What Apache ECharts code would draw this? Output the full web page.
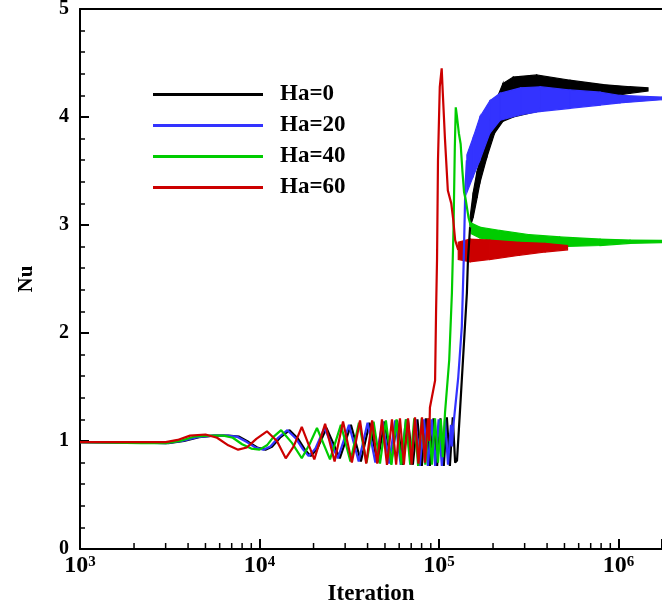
<!DOCTYPE html>
<html><head><meta charset="utf-8">
<script src="https://cdn.jsdelivr.net/npm/echarts@6/dist/echarts.min.js"></script>
<style>html,body{margin:0;padding:0;background:#fff}#c{width:662px;height:605px}</style>
</head><body><div id="c"></div>
<script>
// ---------- data ----------
const seriesNames = ['Ha=0', 'Ha=20', 'Ha=40', 'Ha=60'];
const seriesColors = ['#000000', '#3333ff', '#00cc00', '#cc0000'];

// main traces [iteration, Nu]
const ha0Line = [[1000,0.99],[2300,0.985],[3100,0.98],[3800,1.0],[4600,1.035],[5600,1.05],[6700,1.05],[7700,1.04],[8700,0.99],[9700,0.94],[10800,0.92],[11800,0.95],[13000,1.03],[14700,1.1],[16400,1.02],[17900,0.92],[19300,0.86],[21000,0.93],[23600,1.12],[28000,0.84],[32300,1.15],[36700,0.81],[41000,1.17],[45400,0.8],[49700,1.18],[54100,0.79],[58400,1.19],[62800,0.78],[67100,1.2],[71500,0.78],[75800,1.2],[80200,0.77],[84500,1.21],[88900,0.77],[93200,1.21],[97600,0.77],[101900,1.21],[106300,0.77],[110600,1.22],[115000,0.77],[119300,1.22],[123000,0.8],[126000,0.82],[131000,1.29],[136000,1.75],[143000,2.37],[145000,2.68],[149000,2.98]];
const ha20Line = [[1000,0.99],[2200,0.985],[3000,0.98],[3700,1.0],[4500,1.035],[5500,1.05],[6500,1.05],[7500,1.04],[8500,0.99],[9500,0.94],[10500,0.92],[11500,0.95],[12700,1.03],[14300,1.1],[16000,1.02],[17500,0.92],[18800,0.86],[20500,0.93],[23000,1.12],[27300,0.84],[31500,1.15],[35700,0.81],[40000,1.17],[44200,0.8],[48500,1.18],[52700,0.79],[57000,1.19],[61200,0.78],[65500,1.2],[69700,0.78],[74000,1.2],[78200,0.77],[82500,1.2],[86700,0.77],[91000,1.2],[95200,0.77],[99500,1.2],[103700,0.77],[108000,1.2],[112200,0.78],[116500,1.15],[118000,0.95],[120000,1.13],[128000,1.59],[134000,2.06],[137000,2.61],[140000,3.3],[143000,3.6]];
const ha40Line = [[1000,0.99],[2200,0.98],[3000,0.98],[3600,1.0],[4300,1.04],[5200,1.05],[6300,1.05],[7100,1.03],[8000,0.97],[9000,0.93],[10000,0.92],[11000,0.96],[12000,1.04],[13200,1.1],[15200,0.98],[17200,0.84],[19000,0.97],[20900,1.12],[24700,0.83],[28400,1.15],[32100,0.81],[35800,1.17],[39500,0.8],[43200,1.18],[46900,0.79],[50600,1.19],[54300,0.78],[58000,1.2],[61700,0.78],[65400,1.2],[69100,0.78],[72800,1.21],[76500,0.77],[80200,1.21],[83900,0.78],[87600,1.21],[91300,0.78],[95000,1.21],[98700,0.8],[102400,1.2],[105000,0.85],[108000,1.26],[114000,1.75],[118000,2.37],[120500,2.98],[122500,3.72],[124000,4.09],[126000,4.0],[129000,3.85],[132000,3.75],[135000,3.5],[138000,3.3],[141000,3.23],[146000,3.07],[151000,2.98]];
const ha60Line = [[1000,0.99],[2000,0.99],[3000,0.99],[3500,1.01],[4100,1.05],[5000,1.06],[5800,1.03],[6700,0.96],[7600,0.92],[8500,0.94],[9600,1.02],[11000,1.09],[12500,1.0],[14000,0.84],[15500,0.95],[17200,1.13],[20200,0.83],[23200,1.16],[26200,0.81],[29200,1.18],[32700,0.8],[36300,1.19],[39300,0.79],[42400,1.19],[45300,0.79],[48100,1.2],[51300,0.78],[54700,1.2],[57700,0.78],[60600,1.21],[63700,0.78],[67200,1.21],[70300,0.78],[73500,1.22],[76800,0.79],[80400,1.22],[83500,0.8],[86800,1.21],[88200,1.0],[89000,1.31],[95100,1.56],[96300,2.2],[97500,2.68],[98700,3.6],[101000,4.28],[103500,4.45],[105000,4.22],[108000,3.79],[112000,3.32],[117000,3.2],[120000,3.05],[123000,2.86],[128000,2.77]];

// dense-oscillation envelopes (lower / upper Nu) after the jump
const ha0BandX  = [149000,155000,163000,169000,185000,204000,227000,259000,350000,537000,820000,1160000,1460000];
const ha0BandLo = [2.98,3.07,3.25,3.39,3.63,3.85,3.96,4.0,4.05,4.1,4.18,4.22,4.24];
const ha0BandHi = [3.07,3.3,3.5,3.6,3.9,4.12,4.31,4.37,4.39,4.34,4.3,4.28,4.27];
const ha20BandX  = [143000,155000,169000,192000,219000,285000,366000,537000,790000,1020000,1750000,2800000];
const ha20BandLo = [3.3,3.45,3.6,3.85,3.97,4.02,4.05,4.08,4.11,4.13,4.16,4.17];
const ha20BandHi = [3.65,3.81,4.0,4.15,4.22,4.27,4.28,4.25,4.23,4.2,4.185,4.185];
const ha40BandX  = [151000,169000,219000,320000,470000,790000,1160000,2200000,3200000];
const ha40BandLo = [2.92,2.88,2.84,2.81,2.8,2.81,2.83,2.84,2.845];
const ha40BandHi = [3.02,2.98,2.95,2.91,2.89,2.87,2.86,2.855,2.855];
const ha60BandX  = [128000,149000,192000,280000,390000,520000];
const ha60BandLo = [2.68,2.66,2.68,2.72,2.75,2.77];
const ha60BandHi = [2.84,2.87,2.86,2.84,2.83,2.81];

const xMinorTicks = [2000,3000,4000,5000,6000,7000,8000,9000,20000,30000,40000,50000,60000,70000,80000,90000,200000,300000,400000,500000,600000,700000,800000,900000];
const xMin = 1000, xMax = 1747000;
const yMin = 0, yMax = 5, yStep = 1;
const xTitle = 'Iteration', yTitle = 'Nu';

// ---------- chart ----------
const FONT = '"Liberation Serif","Times New Roman",serif';
const lines = [ha0Line, ha20Line, ha40Line, ha60Line];
const bands = [[ha0BandX,ha0BandLo,ha0BandHi],[ha20BandX,ha20BandLo,ha20BandHi],[ha40BandX,ha40BandLo,ha40BandHi],[ha60BandX,ha60BandLo,ha60BandHi]];

const series = [];
for (let i = 0; i < 4; i++) {
  const c = seriesColors[i];
  series.push({
    name: seriesNames[i], type: 'line', data: lines[i], showSymbol: false, animation: false,
    lineStyle: { color: c, width: 2.2 }, itemStyle: { color: c }
  });
  const [bx, lo, hi] = bands[i];
  const segs = [];
  for (let j = 0; j < bx.length - 1; j++) segs.push([bx[j], lo[j], hi[j], bx[j + 1], lo[j + 1], hi[j + 1]]);
  series.push({
    name: 'band_' + i, type: 'custom', silent: true, animation: false,
    encode: { x: [0, 3], y: [1, 2, 4, 5] },
    data: segs,
    renderItem: function (params, api) {
      const a = api.coord([api.value(0), api.value(1)]);
      const b = api.coord([api.value(0), api.value(2)]);
      const d = api.coord([api.value(3), api.value(4)]);
      const e = api.coord([api.value(3), api.value(5)]);
      return { type: 'polygon', shape: { points: [a, b, e, d] }, style: { fill: c, stroke: c, lineWidth: 1.2 } };
    }
  });
}
series.push({
  type: 'custom', silent: true, animation: false, clip: false,
  data: xMinorTicks.map(v => [v, yMin]),
  renderItem: function (params, api) {
    const p = api.coord([api.value(0), api.value(1)]);
    return { type: 'line', shape: { x1: p[0], y1: p[1], x2: p[0], y2: p[1] - 6 }, style: { stroke: '#000', lineWidth: 1.5 } };
  }
});

const chart = echarts.init(document.getElementById('c'), null, { renderer: 'canvas' });
chart.setOption({
  animation: false,
  backgroundColor: '#fff',
  grid: { left: 80, top: 9, right: 0, height: 540, outerBoundsMode: 'none', containLabel: false },
  legend: {
    data: seriesNames, orient: 'vertical', left: 148, top: 78, itemWidth: 110, itemHeight: 3, itemGap: 8,
    icon: 'rect', selectedMode: false,
    textStyle: { fontFamily: FONT, fontWeight: 'bold', fontSize: 23, color: '#000', lineHeight: 21, padding: [0, 0, 0, 12] }
  },
  xAxis: [{
    type: 'log', logBase: 10, min: xMin, max: xMax,
    name: xTitle, nameLocation: 'middle', nameGap: 26,
    nameTextStyle: { fontFamily: FONT, fontWeight: 'bold', fontSize: 23, color: '#000' },
    axisLine: { lineStyle: { color: '#000', width: 2 } },
    axisTick: { inside: true, length: 10, lineStyle: { color: '#000', width: 2 } },
    splitLine: { show: false },
    axisLabel: {
      margin: 6, color: '#000',
      formatter: function (v) {
        const e = Math.log10(v);
        if (Math.abs(e - Math.round(e)) > 1e-6) return '';
        return '{b|10}{s|' + Math.round(e) + '}';
      },
      rich: {
        b: { fontFamily: FONT, fontWeight: 'bold', fontSize: 24, color: '#000', lineHeight: 22 },
        s: { fontFamily: FONT, fontWeight: 'bold', fontSize: 15, color: '#000', lineHeight: 13, verticalAlign: 'top' }
      }
    }
  }, {
    type: 'log', logBase: 10, min: xMin, max: xMax, position: 'top',
    axisLine: { show: true, lineStyle: { color: '#000', width: 2 } },
    axisTick: { show: false }, axisLabel: { show: false }, splitLine: { show: false }
  }],
  yAxis: {
    type: 'value', min: yMin, max: yMax, interval: yStep,
    name: yTitle, nameLocation: 'middle', nameGap: 43,
    nameTextStyle: { fontFamily: FONT, fontWeight: 'bold', fontSize: 21, color: '#000' },
    axisLine: { show: true, lineStyle: { color: '#000', width: 2 } },
    axisTick: { show: true, inside: true, length: 9, lineStyle: { color: '#000', width: 2 } },
    minorTick: { show: true, splitNumber: 5, length: 5, lineStyle: { color: '#000', width: 1.5 } },
    splitLine: { show: false },
    axisLabel: { fontFamily: FONT, fontWeight: 'bold', fontSize: 20, color: '#000', margin: 11 }
  },
  series: series
});
</script></body></html>
